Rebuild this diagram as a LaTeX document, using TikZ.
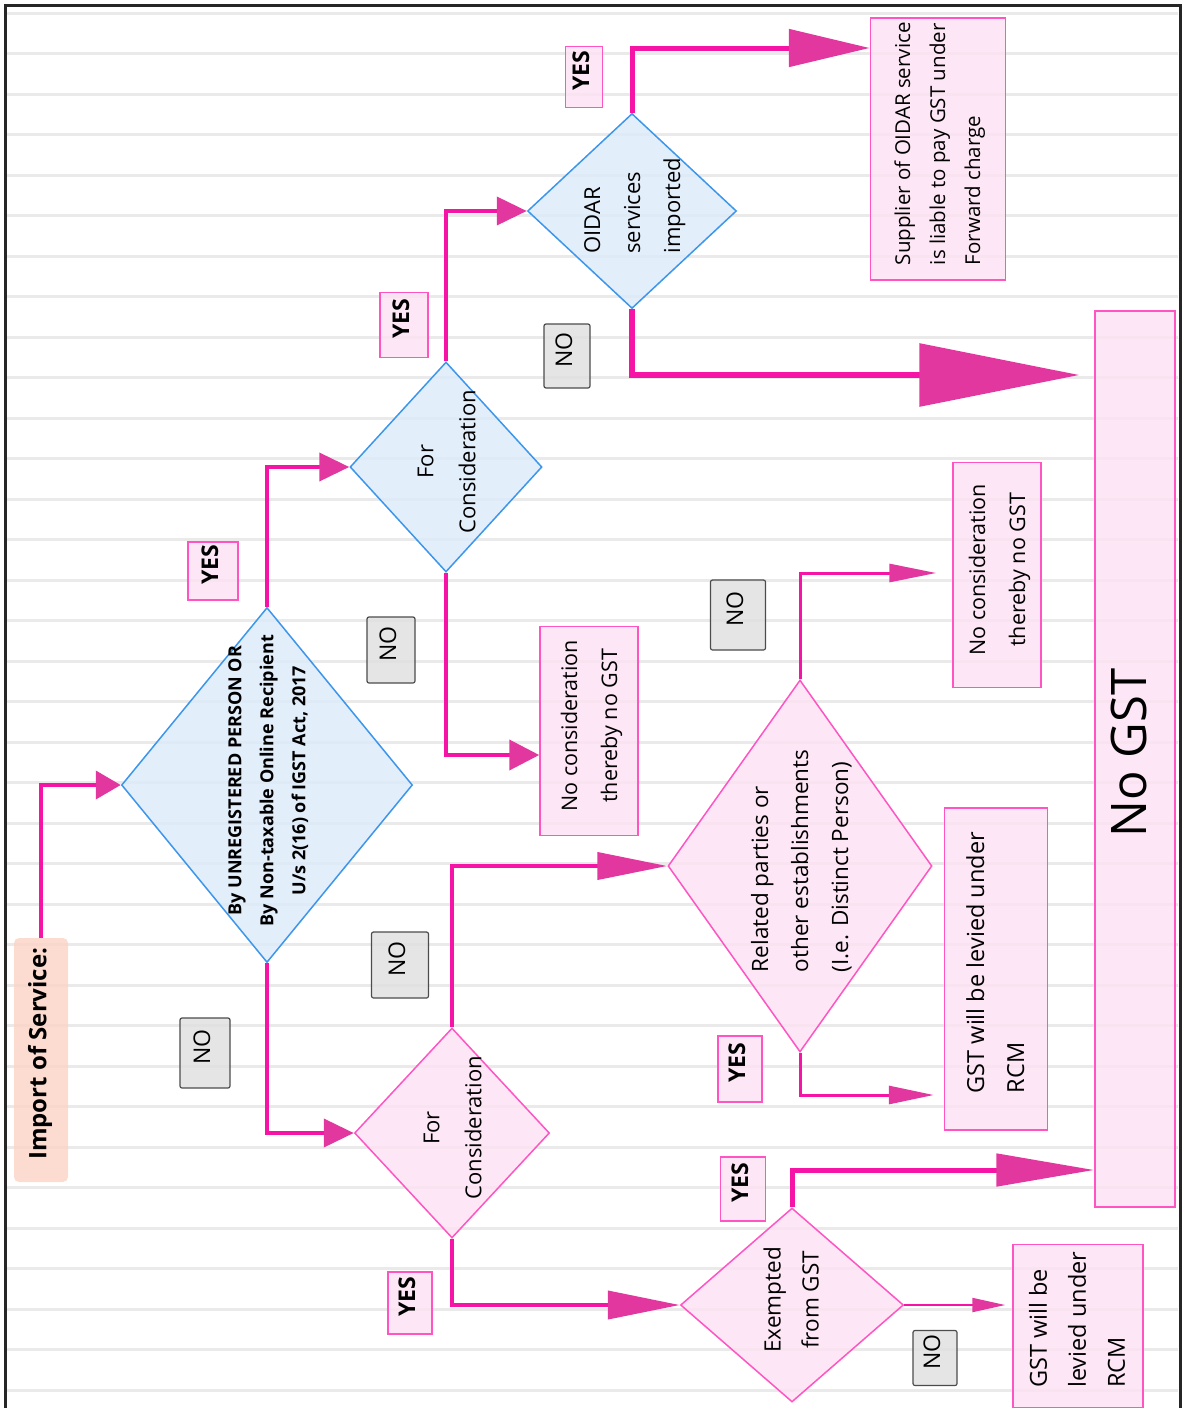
\documentclass[tikz,border=0pt]{standalone}
\usepackage{fontspec}
\setmainfont{Open Sans}
\usepackage{graphicx}
\usetikzlibrary{arrows.meta,shapes.geometric}
\definecolor{lineas}{RGB}{234,234,234}
\definecolor{rosa}{RGB}{245,20,165}
\definecolor{punta}{RGB}{226,55,158}
\definecolor{azul}{RGB}{60,150,235}
\definecolor{azulclaro}{RGB}{222,235,250}
\definecolor{rosaclaro}{RGB}{253,226,243}
\definecolor{rosaborde}{RGB}{255,85,195}
\definecolor{melocoton}{RGB}{251,214,200}
\definecolor{gris}{RGB}{224,224,224}
% text turned a quarter turn, taking no room in its node
\newcommand{\vtext}[2][c]{\makebox[0pt]{\raisebox{0pt}[0pt][0pt]{\rotatebox[origin=c]{90}{\begin{tabular}{@{}#1@{}}#2\end{tabular}}}}}

\begin{document}
\begin{tikzpicture}[x=1pt,y=-1pt,
    every node/.style={inner sep=0pt,fill opacity=.85,text opacity=1},
    ruled/.style={lineas,line width=3pt},
    qblue/.style={diamond,draw=azul,fill=azulclaro,line width=1.5pt},
    qpink/.style={diamond,draw=rosaborde,fill=rosaclaro,line width=1.5pt},
    result/.style={rectangle,draw=rosaborde,fill=rosaclaro,line width=1.5pt},
    yeslbl/.style={rectangle,draw=rosaborde,fill=rosaclaro,line width=1.2pt,font=\fontsize{23}{26}\selectfont\bfseries},
    nolbl/.style={rectangle,draw=black!70,fill=gris,rounded corners=2pt,line width=1.2pt,font=\fontsize{23}{26}\selectfont},
    flow/.style={rosa,line width=4pt},
    tipa/.style 2 args={-{Triangle[length=#1,width=#2,color=punta]}}]
  \useasboundingbox (0,0) rectangle (1184,1408);
  % ruled paper
  \foreach \y in {13,53.5,...,1400}
    \draw[ruled] (7,\y) -- (1178,\y);
  % start
  \node[fill=melocoton,rounded corners=5pt,minimum width=54pt,minimum height=244pt,
        font=\fontsize{24}{26}\selectfont\bfseries] (imp) at (41,1060) {\vtext{Import of Service:}};
  % questions
  \node[qblue,minimum width=291pt,minimum height=355pt,font=\fontsize{18}{32}\selectfont\bfseries] (q1) at (267,785)
    {\vtext{By UNREGISTERED PERSON OR\\By Non-taxable Online Recipient\\U/s 2(16) of IGST Act, 2017}};
  \node[qblue,minimum width=192pt,minimum height=210pt,font=\fontsize{22}{42}\selectfont] (q2) at (446,467)
    {\vtext{For\\Consideration}};
  \node[qblue,minimum width=209pt,minimum height=195pt,font=\fontsize{22}{40}\selectfont] (oidar) at (632,211)
    {\vtext[l]{OIDAR\\services\\imported}};
  \node[qpink,minimum width=195pt,minimum height=210pt,font=\fontsize{22}{42}\selectfont] (q3) at (452,1133)
    {\vtext{For\\Consideration}};
  \node[qpink,minimum width=264pt,minimum height=372pt,font=\fontsize{22.5}{40}\selectfont] (q4) at (800,866)
    {\vtext[l]{Related parties or\\other establishments\\(I.e. Distinct Person)}};
  \node[qpink,minimum width=223pt,minimum height=194pt,font=\fontsize{22.5}{38}\selectfont] (q5) at (792,1305)
    {\vtext{Exempted\\from GST}};
  % outcomes
  \node[result,minimum width=135pt,minimum height=262pt,font=\fontsize{20.5}{35}\selectfont] (sup) at (938,149)
    {\vtext[l]{Supplier of OIDAR service\\is liable to pay GST under\\Forward charge}};
  \node[result,minimum width=80pt,minimum height=896pt,font=\fontsize{49}{56}\selectfont] (nogst) at (1135,759)
    {\vtext{No GST}};
  \node[result,minimum width=98pt,minimum height=209pt,font=\fontsize{21.5}{40}\selectfont] (nc1) at (589,731)
    {\vtext{No consideration\\thereby no GST}};
  \node[result,minimum width=88pt,minimum height=225pt,font=\fontsize{21.5}{40}\selectfont] (nc2) at (997,575)
    {\vtext{No consideration\\thereby no GST}};
  \node[result,minimum width=103pt,minimum height=322pt,font=\fontsize{23.5}{40}\selectfont] (rcm1) at (996,969)
    {\vtext[l]{GST will be levied under\\RCM}};
  \node[result,minimum width=130pt,minimum height=163pt,font=\fontsize{23.5}{39}\selectfont] (rcm2) at (1078,1326)
    {\vtext[l]{GST will be\\levied under\\RCM}};
  % yes / no tags
  \node[yeslbl,minimum width=50pt,minimum height=58pt] (yes1) at (213,571) {\vtext{YES}};
  \node[nolbl,minimum width=50pt,minimum height=70pt] (no1) at (205,1053) {\vtext{NO}};
  \node[yeslbl,minimum width=48pt,minimum height=65pt] (yes2) at (404,325) {\vtext{YES}};
  \node[nolbl,minimum width=48pt,minimum height=66pt] (no2) at (391,650) {\vtext{NO}};
  \node[yeslbl,minimum width=37pt,minimum height=61pt] (yes3) at (584,77) {\vtext{YES}};
  \node[nolbl,minimum width=46pt,minimum height=64pt] (no3) at (567,356) {\vtext{NO}};
  \node[nolbl,minimum width=57pt,minimum height=66pt] (no4) at (400,965) {\vtext{NO}};
  \node[yeslbl,minimum width=44pt,minimum height=62pt] (yes4) at (410,1303) {\vtext{YES}};
  \node[nolbl,minimum width=55pt,minimum height=70pt] (no5) at (738,615) {\vtext{NO}};
  \node[yeslbl,minimum width=44pt,minimum height=66pt] (yes5) at (740,1069) {\vtext{YES}};
  \node[yeslbl,minimum width=45pt,minimum height=64pt] (yes6) at (743,1189) {\vtext{YES}};
  \node[nolbl,minimum width=44pt,minimum height=55pt] (no6) at (935,1358) {\vtext{NO}};
  % connectors
  \draw[flow,tipa={25pt}{28pt}] (imp.north) |- (q1.west);
  \draw[flow,tipa={30pt}{28pt}] (q1.north) |- (q2.west);
  \draw[flow,tipa={30pt}{28pt}] (q2.north) |- (oidar.west);
  \draw[flow,line width=5pt,tipa={81pt}{37pt}] (oidar.north) |- (sup.west |- 0,48);
  \draw[flow,line width=6pt,tipa={160pt}{62pt},shorten >=15pt] (oidar.south) |- (nogst.west |- 0,375);
  \draw[flow,tipa={30pt}{30pt}] (q2.south) |- (nc1.west |- 0,755);
  \draw[flow,tipa={30pt}{28pt}] (q1.south) |- (q3.west);
  \draw[flow,tipa={70pt}{27pt}] (q3.north) |- (q4.west);
  \draw[flow,tipa={72pt}{28pt}] (q3.south) |- (q5.west);
  \draw[flow,line width=3pt,tipa={47pt}{18pt},shorten >=16pt] (q4.north) |- (nc2.west |- 0,573);
  \draw[flow,line width=3pt,tipa={45pt}{18pt},shorten >=10pt] (q4.south) |- (rcm1.west |- 0,1095);
  \draw[flow,line width=5pt,tipa={98pt}{32pt}] (q5.north) |- (nogst.west |- 0,1170);
  \draw[flow,line width=2pt,tipa={33pt}{14pt},shorten >=7pt] (q5.east) -- (rcm2.west |- q5.east);
  % frame
  \draw[line width=3pt,black!85] (5,1408) -- (5,5) -- (1180,5) -- (1180,1408);
\end{tikzpicture}
\end{document}
